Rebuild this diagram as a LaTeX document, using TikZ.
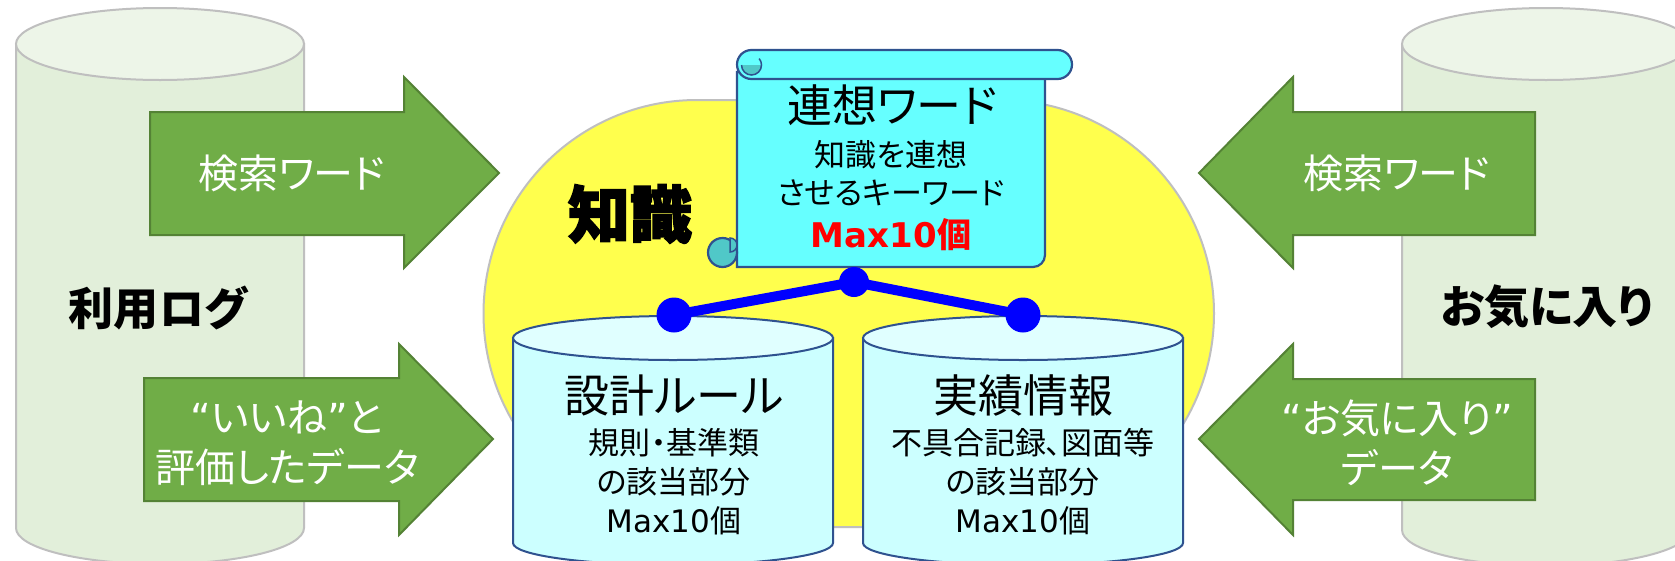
\documentclass[tikz,border=0pt]{standalone}
\usepackage{fontspec}
\setmainfont{Noto Sans CJK JP}[RawFeature=+palt]
\newfontfamily\lat{DejaVu Sans}
\newfontfamily\heavyjp{Noto Sans CJK JP}[BoldFeatures={FakeBold=2.5}]
\newcommand{\setfs}[2]{\fontsize{#1pt}{#2pt}\selectfont}
\definecolor{sidebody}{RGB}{226,239,218}
\definecolor{sidetop}{RGB}{237,245,232}
\definecolor{sidegray}{RGB}{191,191,191}
\definecolor{arrowfill}{RGB}{112,173,71}
\definecolor{arrowline}{RGB}{84,130,53}
\definecolor{yel}{RGB}{255,255,77}
\definecolor{scrollfill}{RGB}{102,255,255}
\definecolor{scrollteal}{RGB}{80,200,200}
\definecolor{outl}{RGB}{47,82,143}
\definecolor{databody}{RGB}{204,255,255}
\definecolor{datatop}{RGB}{224,255,255}
\definecolor{pureblue}{RGB}{0,0,255}
\definecolor{purered}{RGB}{255,0,0}
\begin{document}
\begin{tikzpicture}[x=1pt,y=-1pt,
  sidecyl/.style={fill=sidebody, draw=sidegray, line width=2pt},
  greenarrow/.style={fill=arrowfill, draw=arrowline, line width=2pt, line join=miter},
  wtext/.style={text=white, font=\setfs{40}{50}, align=center, inner sep=0pt},
  blabel/.style={font=\setfs{45}{50}\bfseries, inner sep=0pt},
  scrollst/.style={fill=scrollfill, draw=outl, line width=2.2pt},
  datacyl/.style={fill=databody, draw=outl, line width=2pt},
  bigtxt/.style={font=\setfs{45}{50}, inner sep=0pt},
  smalltxt/.style={font=\setfs{31}{39}, align=center, inner sep=0pt},
  bdot/.style={circle, fill=pureblue, inner sep=0pt},
  bline/.style={draw=pureblue, line width=10pt}
]
\useasboundingbox (0,0) rectangle (1675,560);
\fill[white] (0,0) rectangle (1675,560);

% side cylinders
\path[sidecyl] (16,44) -- (16,528) arc[start angle=180,end angle=0,x radius=144,y radius=36] -- (304,44) -- cycle;
\path[sidecyl, fill=sidetop] (160,44) ellipse[x radius=144, y radius=36];
\path[sidecyl] (1402,44) -- (1402,530) arc[start angle=180,end angle=0,x radius=144,y radius=36] -- (1690,44) -- cycle;
\path[sidecyl, fill=sidetop] (1546,44) ellipse[x radius=144, y radius=36];

% green arrows
\path[greenarrow] (150,112) -- (404,112) -- (404,77) -- (499,173) -- (404,268) -- (404,235) -- (150,235) -- cycle;
\path[greenarrow] (144,378) -- (399,378) -- (399,344) -- (493,439) -- (399,535) -- (399,501) -- (144,501) -- cycle;
\path[greenarrow] (1535,112) -- (1293,112) -- (1293,77) -- (1199,173) -- (1293,268) -- (1293,235) -- (1535,235) -- cycle;
\path[greenarrow] (1535,379) -- (1293,379) -- (1293,344) -- (1199,439) -- (1293,535) -- (1293,500) -- (1535,500) -- cycle;

\node[wtext] (t1) at (292,173) {検索ワード};
\node[wtext] (t2) at (287,443) {{\lat “}いいね{\lat ”}と\\評価したデータ};
\node[wtext] (t3) at (1397,173) {検索ワード};
\node[wtext] (t4) at (1397,443) {{\lat “}お気に入り{\lat ”}\\データ};

\node[blabel] (l1) at (158,308) {利用ログ};
\node[blabel] (l2) at (1547,307) {お気に入り};

% yellow knowledge area (stadium)
\path[fill=yel, draw=sidegray, line width=2pt] (697,100) -- (1000.5,100) arc[start angle=270,end angle=450,radius=213.5] -- (697,527) arc[start angle=90,end angle=270,radius=213.5] -- cycle;

% title
\node[font=\heavyjp\setfs{62}{70}\bfseries, inner sep=0pt] (k) at (630,214) {知識};

% scroll
\path[scrollst] (737,72) -- (737,267) -- (1033,267) arc[start angle=90,end angle=0,radius=12] -- (1045,72) -- cycle;
\path[scrollst] (751.5,50) -- (1057.5,50) arc[start angle=270,end angle=450,radius=14.5] -- (751.5,79) arc[start angle=90,end angle=270,radius=14.5] -- cycle;
\fill[scrollteal] (741.5,65) arc[start angle=180,end angle=0,radius=10] -- cycle;
\draw[outl, line width=1.5pt] (741.5,65) arc[start angle=180,end angle=-40,radius=10];
\path[fill=scrollteal, draw=outl, line width=2.2pt] (722.5,252.5) circle[radius=14.5];
\path[fill=scrollteal, draw=outl, line width=1.5pt] (730,238) arc[start angle=270,end angle=450,radius=7] -- cycle;

\node[bigtxt] (s1) at (892,105) {連想ワード};
\node[smalltxt] (s2) at (891,155) {知識を連想};
\node[smalltxt] (s3) at (891,193) {させるキーワード};
\node[font=\setfs{34}{40}\bfseries, text=purered, inner sep=0pt] (s4) at (891,235) {{\lat\bfseries Max10}個};

% data cylinders
\path[datacyl] (513,338) -- (513,543) arc[start angle=180,end angle=0,x radius=160,y radius=22] -- (833,338) -- cycle;
\path[datacyl, fill=datatop] (673,338) ellipse[x radius=160, y radius=22];
\path[datacyl] (863,338) -- (863,543) arc[start angle=180,end angle=0,x radius=160,y radius=22] -- (1183,338) -- cycle;
\path[datacyl, fill=datatop] (1023,338) ellipse[x radius=160, y radius=22];

\node[bigtxt] (c1) at (674,395) {設計ルール};
\node[smalltxt] (c1d) at (674,482) {規則・基準類\\の該当部分\\{\lat Max10}個};
\node[bigtxt] (c2) at (1023,395) {実績情報};
\node[smalltxt] (c2d) at (1023,482) {不具合記録、図面等\\の該当部分\\{\lat Max10}個};

% blue connectors
\node[bdot, minimum size=30pt] (j) at (854,282) {};
\node[bdot, minimum size=35pt] (dl) at (674,315) {};
\node[bdot, minimum size=35pt] (dr) at (1023,315) {};
\draw[bline] (j.center) -- (dl.center);
\draw[bline] (j.center) -- (dr.center);
\end{tikzpicture}
\end{document}
